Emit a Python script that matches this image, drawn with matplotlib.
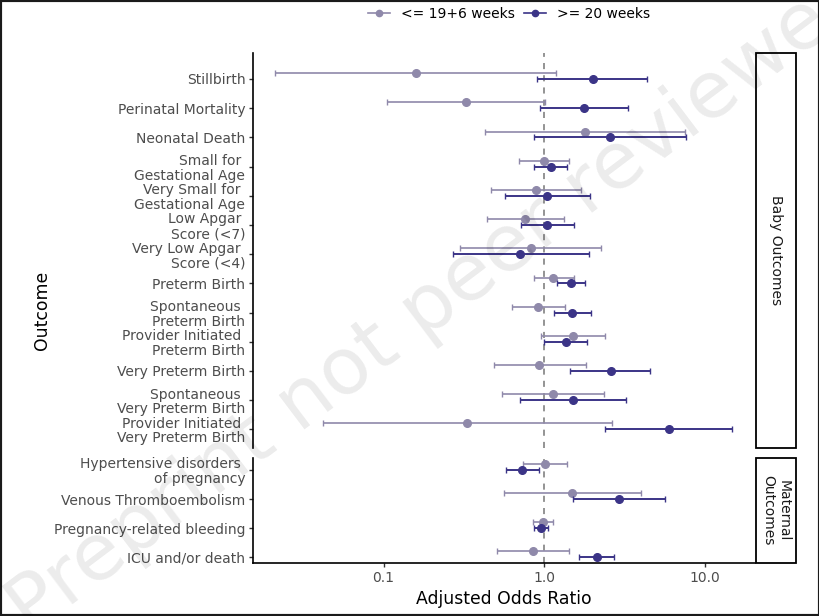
import matplotlib
matplotlib.use("Agg")
import matplotlib.pyplot as plt
from matplotlib.lines import Line2D
from matplotlib.patches import Rectangle

# Baby outcomes (top to bottom)
baby_labels = ["Stillbirth", "Perinatal Mortality", "Neonatal Death",
               "Small for \nGestational Age", "Very Small for \nGestational Age",
               "Low Apgar \nScore (<7)", "Very Low Apgar \nScore (<4)",
               "Preterm Birth", "Spontaneous \nPreterm Birth",
               "Provider Initiated \nPreterm Birth", "Very Preterm Birth",
               "Spontaneous \nVery Preterm Birth",
               "Provider Initiated \nVery Preterm Birth"]
# <= 19+6 weeks
baby_early = [0.159, 0.327, 1.80, 1.00, 0.89, 0.76, 0.83, 1.14, 0.92, 1.52, 0.93, 1.13, 0.333]
baby_early_lo = [0.021, 0.105, 0.43, 0.70, 0.47, 0.44, 0.30, 0.86, 0.63, 0.96, 0.49, 0.55, 0.042]
baby_early_hi = [1.19, 1.01, 7.56, 1.42, 1.69, 1.33, 2.27, 1.54, 1.35, 2.40, 1.82, 2.36, 2.66]
# >= 20 weeks
baby_late = [2.02, 1.78, 2.58, 1.10, 1.05, 1.05, 0.71, 1.47, 1.50, 1.36, 2.60, 1.52, 6.01]
baby_late_lo = [0.91, 0.94, 0.86, 0.87, 0.57, 0.72, 0.27, 1.21, 1.15, 1.00, 1.46, 0.71, 2.40]
baby_late_hi = [4.40, 3.32, 7.67, 1.38, 1.92, 1.54, 1.91, 1.81, 1.95, 1.86, 4.59, 3.24, 14.9]

# Maternal outcomes
mat_labels = ["Hypertensive disorders \nof pregnancy", "Venous Thromboembolism",
              "Pregnancy-related bleeding", "ICU and/or death"]
mat_early = [1.02, 1.49, 0.98, 0.85]
mat_early_lo = [0.74, 0.56, 0.85, 0.51]
mat_early_hi = [1.38, 4.04, 1.13, 1.43]
mat_late = [0.73, 2.92, 0.96, 2.13]
mat_late_lo = [0.58, 1.52, 0.87, 1.65]
mat_late_hi = [0.93, 5.65, 1.06, 2.73]

c_early = "#8f89aa"
c_late = "#3b3487"
tick_col = "#4d4d4d"

W, H = 820, 616
fig = plt.figure(figsize=(W / 100, H / 100), dpi=100)


def fx(px):
    return px / W


def fy(py):
    return 1 - py / H


ax1 = fig.add_axes([fx(253), fy(448), fx(755) - fx(253), fy(53) - fy(448)])
ax2 = fig.add_axes([fx(253), fy(563), fx(755) - fx(253), fy(458) - fy(563)])


def draw(ax, labels, e, elo, ehi, l, llo, lhi, ylim):
    n = len(labels)
    ys = list(range(n))
    ye = [y - 0.2 for y in ys]
    ax.axvline(1.0, color="#777777", ls=(0, (4, 4)), lw=1.1, zorder=1)
    ax.errorbar(e, ye, xerr=[[a - b for a, b in zip(e, elo)], [b - a for a, b in zip(e, ehi)]],
                fmt="o", color=c_early, ms=5.5, elinewidth=1.2, capsize=2.5, capthick=1.0, zorder=2)
    ax.errorbar(l, ys, xerr=[[a - b for a, b in zip(l, llo)], [b - a for a, b in zip(l, lhi)]],
                fmt="o", color=c_late, ms=5.5, elinewidth=1.4, capsize=2.5, capthick=1.0, zorder=3)
    ax.set_xscale("log")
    ax.set_xlim(0.01538, 20.6)
    ax.set_ylim(*ylim)
    ax.set_yticks(ys)
    ax.set_yticklabels(labels, color=tick_col, fontsize=10)
    for t in ax.get_yticklabels():
        t.set_linespacing(1.05)
    ax.tick_params(axis="y", length=3, width=1, pad=2.5, color="#333333")
    ax.minorticks_off()
    ax.patch.set_alpha(0)
    for s in ["top", "right"]:
        ax.spines[s].set_visible(False)
    ax.spines["left"].set_linewidth(1.2)


draw(ax1, baby_labels, baby_early, baby_early_lo, baby_early_hi,
     baby_late, baby_late_lo, baby_late_hi, (12.64, -0.89))
draw(ax2, mat_labels, mat_early, mat_early_lo, mat_early_hi,
     mat_late, mat_late_lo, mat_late_hi, (3.2, -0.41))

ax1.spines["bottom"].set_visible(False)
ax1.set_xticks([])
ax1.minorticks_off()
ax2.spines["bottom"].set_linewidth(1.2)
ax2.set_xticks([0.1, 1, 10])
ax2.set_xticklabels(["0.1", "1.0", "10.0"], color=tick_col, fontsize=10)
ax2.tick_params(axis="x", length=3, width=1, pad=2.5, color="#333333")
ax2.minorticks_off()
ax2.set_xlabel("Adjusted Odds Ratio", fontsize=12.4, labelpad=4)

fig.text(fx(42), fy(310), "Outcome", rotation=90, fontsize=12.4, ha="center", va="center")

# facet strips
for top, bot, txt in [(53, 448, "Baby Outcomes"), (458, 563, "Maternal\nOutcomes")]:
    fig.add_artist(Rectangle((fx(756), fy(bot)), fx(796) - fx(756), fy(top) - fy(bot),
                             transform=fig.transFigure, facecolor="white",
                             edgecolor="black", lw=1.3))
    fig.text(fx(776), fy((top + bot) / 2), txt, rotation=-90, fontsize=10,
             ha="center", va="center", color="#1a1a1a", linespacing=1.05)

handles = [Line2D([0], [0], color=c_early, marker="o", ms=4.5, lw=1.2),
           Line2D([0], [0], color=c_late, marker="o", ms=4.5, lw=1.2)]
fig.legend(handles, ["<= 19+6 weeks", ">= 20 weeks"], loc="center",
           bbox_to_anchor=(fx(509), fy(14)), ncol=2, frameon=False, fontsize=10,
           handlelength=1.6, handletextpad=0.8, columnspacing=0.6)

# watermark
fig.text(fx(440), fy(300), "Preprint not peer reviewed", fontsize=57, rotation=37,
         ha="center", va="center", rotation_mode="anchor", color=(0, 0, 0, 0.08), zorder=10)

fig.add_artist(Rectangle((0, 0), 1, 1, transform=fig.transFigure, fill=False,
                         edgecolor="#1a1a1a", lw=3))

fig.savefig("out.png", dpi=100)
